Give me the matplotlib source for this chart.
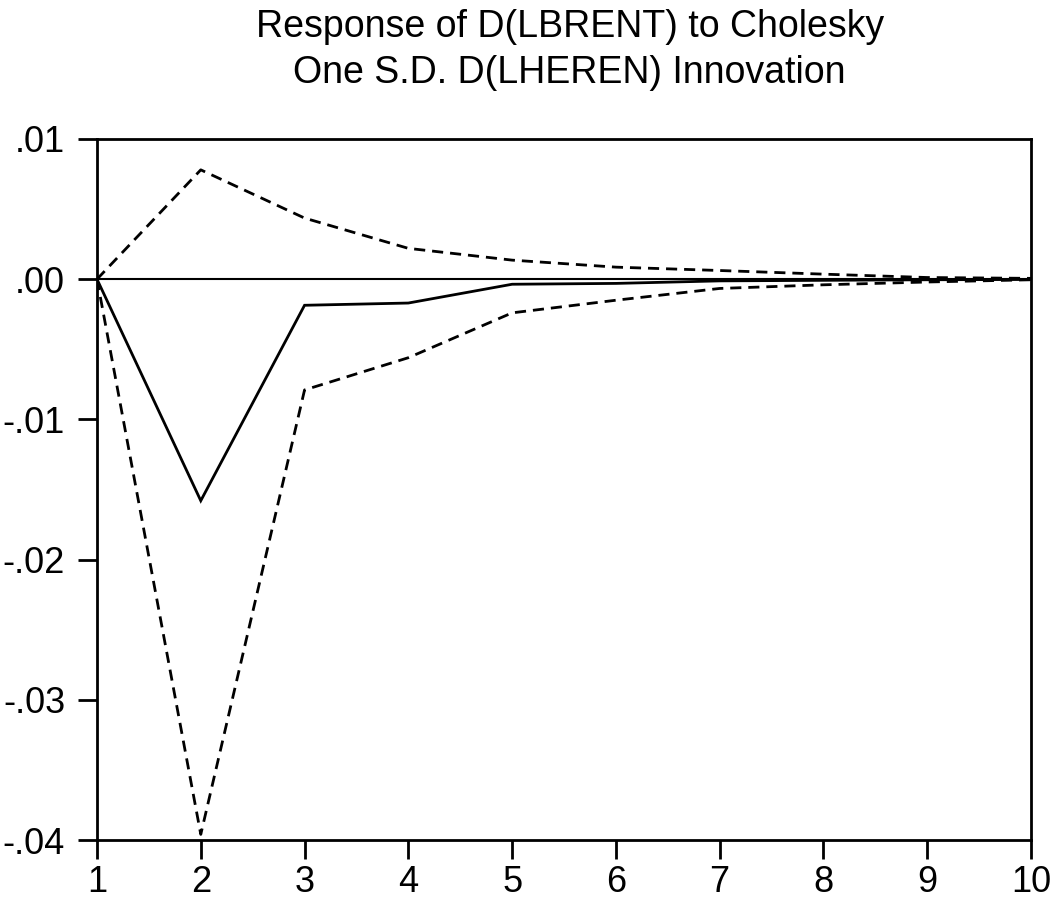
import numpy as np
import matplotlib
matplotlib.use("Agg")
import matplotlib.pyplot as plt

# periods
periods = [1, 2, 3, 4, 5, 6, 7, 8, 9, 10]
# response and +/- 2 s.e. bands
response = [0.0, -0.0158, -0.00186, -0.0017, -0.00036, -0.0003, -0.00012, -0.00008, -0.00004, -0.00002]
upper = [0.0, 0.0078, 0.00436, 0.0022, 0.00136, 0.00086, 0.00062, 0.00036, 0.00012, 0.00006]
lower = [0.0, -0.0396, -0.0079, -0.0056, -0.0024, -0.0015, -0.00066, -0.0004, -0.0002, -0.00004]

yticks = [0.01, 0.0, -0.01, -0.02, -0.03, -0.04]
ytick_labels = [".01", ".00", "-.01", "-.02", "-.03", "-.04"]

title1 = "Response of D(LBRENT) to Cholesky"
title2 = "One S.D. D(LHEREN) Innovation"

plt.rcParams['font.family'] = ['Liberation Sans', 'DejaVu Sans']

fig = plt.figure(figsize=(10.57, 9), dpi=100)
ax = fig.add_axes([97/1057, 1 - 840/900, (1031-97)/1057, (840-139)/900])

ax.axhline(0, color='black', lw=1.5, zorder=1)
ax.plot(periods, response, color='black', lw=2, solid_joinstyle='miter')
ax.plot(periods, upper, color='black', lw=2, dashes=(4, 2.5))
ax.plot(periods, lower, color='black', lw=2, dashes=(4, 2.5))

ax.set_xlim(1, 10)
ax.set_ylim(-0.04, 0.01)
ax.set_xticks(periods)
ax.set_xticklabels([str(p) for p in periods])
ax.set_yticks(yticks)
ax.set_yticklabels(ytick_labels)

ax.tick_params(axis='both', direction='out', length=14, width=2, labelsize=26, color='black')
ax.tick_params(axis='x', pad=4)
ax.tick_params(axis='y', pad=9)
for s in ax.spines.values():
    s.set_linewidth(2)
    s.set_color('black')

# title, two lines placed by baseline
fig.text(0.539, 1 - 37/900, title1, ha='center', va='baseline', fontsize=27)
fig.text(0.539, 1 - 83/900, title2, ha='center', va='baseline', fontsize=27)

fig.savefig("out.png", dpi=100)
